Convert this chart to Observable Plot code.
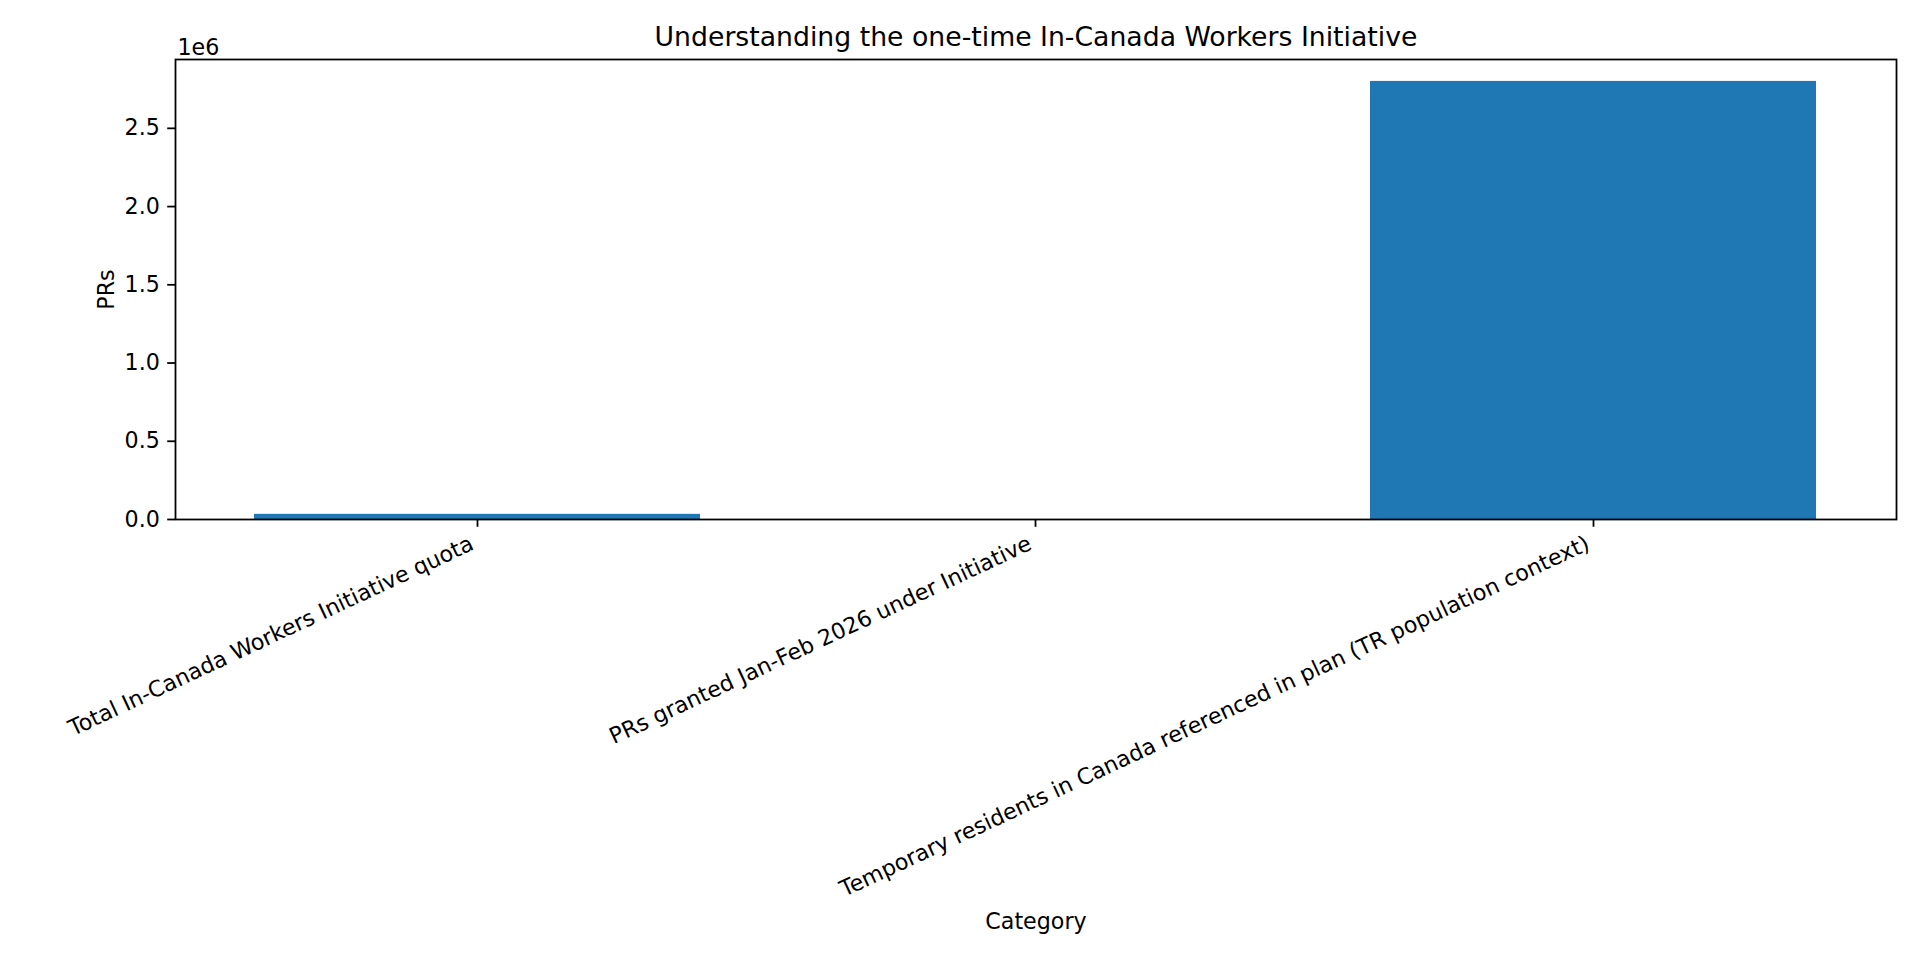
<!DOCTYPE html>
<html>
<head>
<meta charset="utf-8">
<script src="https://cdn.jsdelivr.net/npm/d3@7"></script>
<script src="https://cdn.jsdelivr.net/npm/@observablehq/plot@0.6"></script>
<style>
  html, body { margin: 0; padding: 0; background: #fff; }
  #chart svg { display: block; }
</style>
</head>
<body>
<div id="chart"></div>
<script>
const categories = [
  "Total In-Canada Workers Initiative quota",
  "PRs granted Jan-Feb 2026 under Initiative",
  "Temporary residents in Canada referenced in plan (TR population context)"
];
const values = [33000, 0, 2800000];
const yTicks = [0, 500000, 1000000, 1500000, 2000000, 2500000];
const title = "Understanding the one-time In-Canada Workers Initiative";
const xLabel = "Category";
const yLabel = "PRs";
const offsetLabel = "1e6";

const data = categories.map((c, i) => ({category: c, value: values[i]}));

const W = 1920, H = 960;
const mL = 175, mR = 24, mT = 59, mB = 441;
const fs = 22.2;
const lw = 1.78;

const chart = Plot.plot({
  width: W,
  height: H,
  marginLeft: mL,
  marginRight: mR,
  marginTop: mT,
  marginBottom: mB,
  style: {fontFamily: "DejaVu Sans", fontSize: fs + "px", color: "black", background: "white"},
  x: {domain: categories, paddingInner: 0.2, paddingOuter: 0.1407, align: 0.5},
  y: {domain: [0, 2940000]},
  marks: [
    Plot.barY(data, {x: "category", y: "value", fill: "#1f77b4", inset: 0}),
    Plot.axisY({ticks: yTicks, tickFormat: d => (d / 1e6).toFixed(1), tickSize: 7.8, tickPadding: 7.8, label: null, stroke: "black", strokeWidth: lw, fontSize: fs}),
    Plot.axisX({tickFormat: () => "", tickSize: 7.8, label: null, stroke: "black", strokeWidth: lw}),
    Plot.text(categories, {x: d => d, text: d => d, frameAnchor: "bottom", dy: 15, dx: -9, rotate: -25, textAnchor: "end", lineAnchor: "top", fontSize: fs, fill: "black"}),
    Plot.frame({stroke: "black", strokeWidth: lw}),
    Plot.text([title], {text: d => d, frameAnchor: "top", dy: -22, textAnchor: "middle", lineAnchor: "middle", fontSize: 26.7, fill: "black"}),
    Plot.text([offsetLabel], {text: d => d, frameAnchor: "top-left", dx: 2, dy: -5, textAnchor: "start", lineAnchor: "bottom", fontSize: fs, fill: "black"}),
    Plot.text([yLabel], {text: d => d, frameAnchor: "left", dx: -69, rotate: -90, textAnchor: "middle", lineAnchor: "middle", fontSize: fs, fill: "black"}),
    Plot.text([xLabel], {text: d => d, frameAnchor: "bottom", dy: 402, textAnchor: "middle", lineAnchor: "middle", fontSize: fs, fill: "black"})
  ]
});
document.getElementById("chart").appendChild(chart);
</script>
</body>
</html>
